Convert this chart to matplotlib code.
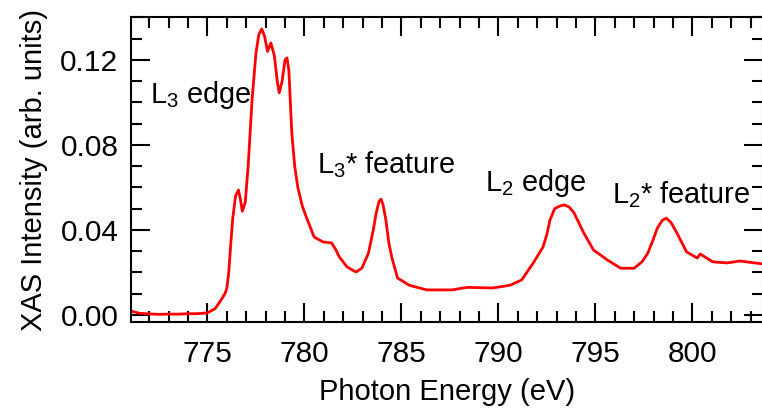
import numpy as np
import matplotlib.pyplot as plt
from matplotlib.ticker import MultipleLocator

# XAS spectrum (photon energy in eV, intensity in arb. units)
energy = [771.06, 771.5, 772.0, 772.5, 773.0, 773.5, 774.0, 774.5, 775.0, 775.4,
          775.7, 775.9, 776.0, 776.1, 776.2, 776.3, 776.45, 776.6, 776.7, 776.8,
          776.95, 777.1, 777.3, 777.5, 777.65, 777.8, 777.95, 778.1, 778.27, 778.45,
          778.6, 778.7, 778.85, 779.0, 779.1, 779.2, 779.35, 779.5, 779.66, 779.9,
          780.1, 780.5, 780.95, 781.4, 781.6, 781.8, 782.2, 782.66, 782.96, 783.3,
          783.55, 783.7, 783.85, 783.95, 784.05, 784.2, 784.35, 784.5, 784.8, 785.4,
          786.3, 787.6, 788.4, 789.7, 790.6, 791.2, 791.8, 792.3, 792.5, 792.66,
          792.9, 793.15, 793.4, 793.65, 793.9, 794.4, 794.9, 795.6, 796.3, 797.0,
          797.4, 797.7, 798.0, 798.2, 798.45, 798.65, 798.9, 799.2, 799.7, 800.25,
          800.4, 801.05, 801.8, 802.45, 803.64]
intensity = [0.0018, 0.0008, 0.0005, 0.0003, 0.0004, 0.0004, 0.0006, 0.0006, 0.0010, 0.0030,
             0.0070, 0.0100, 0.0125, 0.0200, 0.0330, 0.0450, 0.0560, 0.0588, 0.0545, 0.0488,
             0.0530, 0.0700, 0.1010, 0.1230, 0.1320, 0.1346, 0.1310, 0.1240, 0.1280, 0.1220,
             0.1100, 0.1045, 0.1100, 0.1200, 0.1210, 0.1150, 0.0856, 0.0700, 0.0600, 0.0510,
             0.0460, 0.0367, 0.0344, 0.0339, 0.0310, 0.0273, 0.0226, 0.0202, 0.0220, 0.0290,
             0.0400, 0.0480, 0.0535, 0.0545, 0.0520, 0.0447, 0.0340, 0.0273, 0.0174, 0.0140,
             0.0118, 0.0118, 0.0130, 0.0127, 0.0140, 0.0165, 0.0245, 0.0320, 0.0380, 0.0447,
             0.0500, 0.0512, 0.0518, 0.0508, 0.0480, 0.0386, 0.0306, 0.0260, 0.0220, 0.0220,
             0.0250, 0.0290, 0.0360, 0.0410, 0.0445, 0.0456, 0.0435, 0.0386, 0.0297, 0.0268,
             0.0287, 0.0250, 0.0245, 0.0254, 0.0240]

label_texts = ['L$_3$ edge', 'L$_3$* feature', 'L$_2$ edge', 'L$_2$* feature']
label_x = [772.04, 780.65, 789.3, 795.85]
label_y = [0.0998, 0.0668, 0.0584, 0.0527]

plt.rcParams['font.family'] = ['Liberation Sans', 'DejaVu Sans']
plt.rcParams['mathtext.default'] = 'regular'

fig = plt.figure(figsize=(7.62, 4.15), dpi=100)
ax = fig.add_axes([0.1719, 0.2241, 0.8294, 0.7349])

ax.plot(energy, intensity, color='#ff0000', linewidth=2.0)

for txt, tx, ty in zip(label_texts, label_x, label_y):
    ax.text(tx, ty, txt, fontsize=20.8, va='baseline', ha='left')

ax.set_xlim(771.06, 803.64)
ax.set_ylim(-0.0033, 0.1402)
ax.xaxis.set_major_locator(MultipleLocator(5))
ax.xaxis.set_minor_locator(MultipleLocator(1))
ax.yaxis.set_major_locator(MultipleLocator(0.04))
ax.yaxis.set_minor_locator(MultipleLocator(0.01))
ax.yaxis.set_major_formatter(plt.FormatStrFormatter('%.2f'))

ax.tick_params(which='both', direction='in', top=True, right=True, width=1.5)
ax.tick_params(which='major', length=14)
ax.tick_params(which='minor', length=8)
ax.tick_params(axis='x', which='major', pad=13, labelsize=21.5)
ax.tick_params(axis='y', which='major', pad=9, labelsize=21.5)
for s in ax.spines.values():
    s.set_linewidth(1.5)

ax.set_xlabel('Photon Energy (eV)', fontsize=21, labelpad=7)
ax.set_ylabel('XAS Intensity (arb. units)', fontsize=21, labelpad=9)

fig.savefig('out.png', dpi=100)
